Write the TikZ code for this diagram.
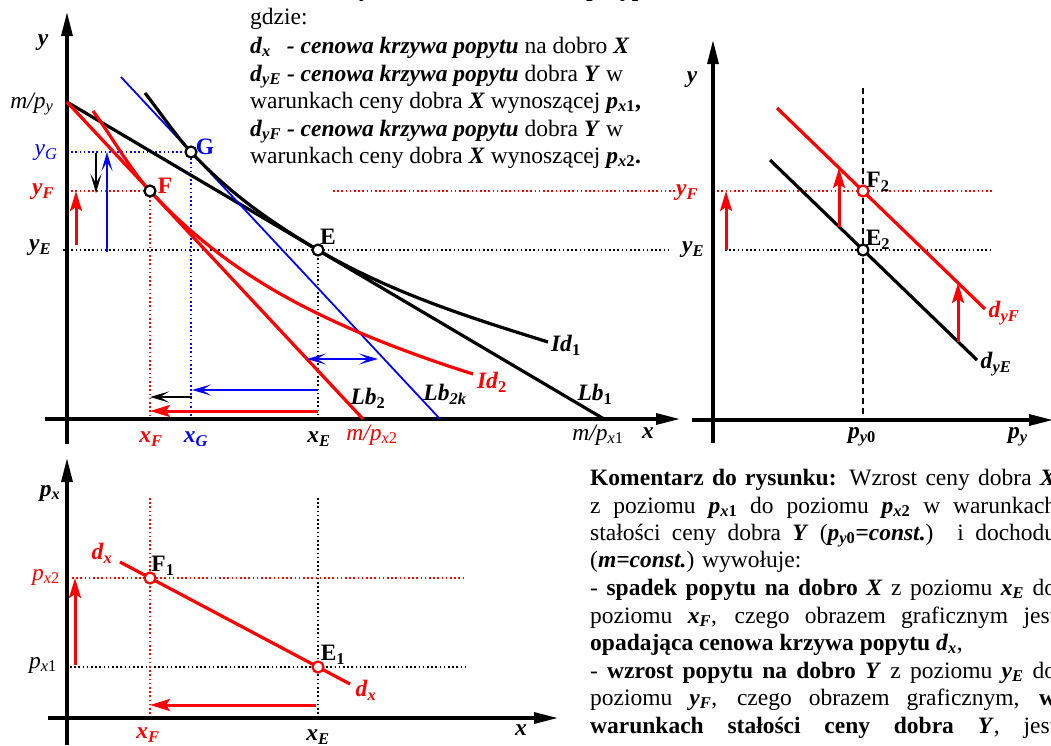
\documentclass[tikz,border=0pt]{standalone}
\usepackage{fontspec}
\setmainfont{Liberation Serif}
\usetikzlibrary{arrows.meta}

\newcommand{\bfit}[1]{\textbf{\textit{#1}}}

\tikzstyle{axis line}=[line width=3.2pt, -{Triangle[length=24pt,width=11pt]}]
\tikzstyle{thick line}=[line width=3.2pt]
\tikzstyle{thin line}=[line width=1.8pt]
\tikzstyle{guide}=[line width=1.5pt, dash pattern=on 1.5pt off 2.7pt]
\tikzstyle{price line}=[line width=1.4pt, dash pattern=on 6pt off 4pt]
\tikzstyle{move}=[line width=3pt, -{Stealth[length=20pt,width=12pt,inset=4pt]}]
\tikzstyle{small move}=[line width=2.8pt, -{Stealth[length=19pt,width=11pt,inset=9pt]}]
\tikzstyle{opt}=[circle, draw, fill=white, line width=2.2pt, minimum size=11pt, inner sep=0pt]
\tikzstyle{lbl}=[inner sep=0pt]
\tikzstyle{textline}=[anchor=base west, inner sep=0pt]

\begin{document}
\begin{tikzpicture}[x=1pt, y=-1pt, font=\fontsize{23.5}{27.5}\selectfont]
\clip (0,0) rectangle (1051,745);

% ---------- upper left: budget lines and indifference curves
\coordinate (my) at (67,102);
\coordinate (mx1) at (604,419);
\coordinate (mx2) at (363,419);
\coordinate (k1) at (121,77);
\coordinate (k2) at (440,419);
\coordinate (E) at (318,250);
\coordinate (F) at (150,191);
\coordinate (G) at (191,152);

\draw[guide, blue] (67,152) -- (G) -- (191,419);
\draw[guide, red] (67,191) -- (F) -- (150,419);
\draw[guide, red] (333,191) -- (675,191);
\draw[guide] (63,250) -- (668,250);
\draw[guide] (E) -- (318,419);

\draw[axis line] (67,444) -- (67,12);
\draw[axis line] (45,419) -- (680,419);

\draw[thick line] (my) -- (mx1);
\draw[thick line, red] (my) -- (mx2);
\draw[thin line, blue] (k1) -- (k2);

% Id1 and Id2
\draw[thick line] (145,93) .. controls (160,112) and (176,136) .. (G)
	.. controls (233,197) and (276,225) .. (E)
	.. controls (395,295) and (478,320) .. (548,342);
\draw[thick line, red] (93,111) .. controls (110,134) and (132,172) .. (F)
	.. controls (219,265) and (289,302) .. (358,332)
	.. controls (396,348) and (435,362) .. (473,374);

\draw[move, red] (76,245) -- (76,191);
\draw[small move, blue] (107,252) -- (107,152);
\draw[small move, line width=2.2pt] (96,153) -- (96,193);
\draw[small move, blue, {Stealth[length=19pt,width=11pt,inset=9pt]}-{Stealth[length=19pt,width=11pt,inset=9pt]}] (307,359) -- (378,359);
\draw[small move, blue] (318,390) -- (192,390);
\draw[small move] (192,397) -- (150,397);
\draw[move, red] (318,411) -- (150,411);

\node[opt] (Ept) at (E) {};
\node[opt] (Fpt) at (F) {};
\node[opt] (Gpt) at (G) {};

\node[lbl] (ylab) at (43,43) {\bfit{y}};
\node[lbl] (mpy) at (32,104) {\textit{m/p}\textsubscript{\textit{y}}};
\node[lbl, blue] (yG) at (46,153) {\textit{y}\textsubscript{\textit{G}}};
\node[lbl, red] (yF) at (43,192) {\bfit{y}\textsubscript{\bfit{F}}};
\node[lbl] (yE) at (40,248) {\bfit{y}\textsubscript{\bfit{E}}};
\node[lbl, blue] (Glab) at (205,147) {\textbf{G}};
\node[lbl, red] (Flab) at (165,186) {\textbf{F}};
\node[lbl] (Elab) at (328,237) {\textbf{E}};
\node[lbl] (Id1) at (566,345) {\bfit{Id}\textsubscript{\textbf{1}}};
\node[lbl, red] (Id2) at (492,382) {\bfit{Id}\textsubscript{\textbf{2}}};
\node[lbl] (Lb2) at (368,398) {\bfit{Lb}\textsubscript{\textbf{2}}};
\node[lbl] (Lb2k) at (445,394) {\bfit{Lb}\textsubscript{\bfit{2k}}};
\node[lbl] (Lb1) at (595,394) {\bfit{Lb}\textsubscript{\textbf{1}}};
\node[lbl, red] (xF) at (151,439) {\bfit{x}\textsubscript{\bfit{F}}};
\node[lbl, blue] (xG) at (196,439) {\bfit{x}\textsubscript{\bfit{G}}};
\node[lbl] (xE) at (319,439) {\bfit{x}\textsubscript{\bfit{E}}};
\node[lbl, red] (mpx2) at (372,435) {\textit{m/p}\textsubscript{\textit{x}2}};
\node[lbl] (mpx1) at (598,435) {\textit{m/p}\textsubscript{\textit{x}1}};
\node[lbl] (xlab) at (648,433) {\bfit{x}};

% ---------- upper right: demand for Y
\coordinate (E2) at (863,250);
\coordinate (F2) at (863,191);

\draw[guide, red] (713,191) -- (993,191);
\draw[guide] (725,250) -- (993,250);
\draw[price line] (863,88) -- (863,420);

\draw[axis line] (713,443) -- (713,40);
\draw[axis line] (692,420) -- (1053,420);

\draw[thick line] (770,160) -- (977,360);
\draw[thick line, red] (777,108) -- (985,309);

\draw[move, red] (726,250) -- (726,191);
\draw[move, red] (839,227) -- (839,168);
\draw[move, red] (958,342) -- (958,283);

\node[opt] (E2pt) at (E2) {};
\node[opt, draw=red] (F2pt) at (F2) {};

\node[lbl] (ylab2) at (692,80) {\bfit{y}};
\node[lbl, red] (yF2) at (687,193) {\bfit{y}\textsubscript{\bfit{F}}};
\node[lbl] (yE2) at (693,250) {\bfit{y}\textsubscript{\bfit{E}}};
\node[lbl] (F2lab) at (878,182) {\textbf{F}\textsubscript{\textbf{2}}};
\node[lbl] (E2lab) at (878,240) {\textbf{E}\textsubscript{\textbf{2}}};
\node[lbl, red] (dyF) at (1004,313) {\bfit{d}\textsubscript{\bfit{yF}}};
\node[lbl] (dyE) at (996,364) {\bfit{d}\textsubscript{\bfit{yE}}};
\node[lbl] (py0) at (862,437) {\bfit{p}\textsubscript{\bfit{y}\textbf{0}}};
\node[lbl] (py) at (1018,437) {\bfit{p}\textsubscript{\bfit{y}}};

% ---------- lower left: demand for X
\coordinate (F1) at (150,578);
\coordinate (E1) at (318,667);

\draw[guide, red] (72,578) -- (464,578);
\draw[guide] (70,667) -- (466,667);
\draw[guide, red] (150,498) -- (150,718);
\draw[guide] (318,498) -- (318,718);

\draw[axis line] (67,745) -- (67,458);
\draw[axis line] (48,718) -- (558,718);

\draw[thick line, red] (120,562) -- (350,684);

\draw[move, red] (75,665) -- (75,578);
\draw[move, red] (316,705) -- (150,705);

\node[opt, draw=red] (F1pt) at (F1) {};
\node[opt, draw=red] (E1pt) at (E1) {};

\node[lbl] (pxlab) at (50,493) {\bfit{p}\textsubscript{\bfit{x}}};
\node[lbl] (xlab3) at (521,730) {\bfit{x}};
\node[lbl, red] (px2) at (46,577) {\textit{p}\textsubscript{\textit{x}2}};
\node[lbl] (px1) at (43,665) {\textit{p}\textsubscript{\textit{x}1}};
\node[lbl, red] (dx1) at (102,553) {\bfit{d}\textsubscript{\bfit{x}}};
\node[lbl, red] (dx2) at (366,690) {\bfit{d}\textsubscript{\bfit{x}}};
\node[lbl] (F1lab) at (163,566) {\textbf{F}\textsubscript{\textbf{1}}};
\node[lbl] (E1lab) at (333,655) {\textbf{E}\textsubscript{\textbf{1}}};
\node[lbl, red] (xF3) at (148,735) {\bfit{x}\textsubscript{\bfit{F}}};
\node[lbl] (xE3) at (318,737) {\bfit{x}\textsubscript{\bfit{E}}};

% ---------- legend (top)
\begin{scope}
\clip (245,-10) rectangle (680,167);
\node[textline] (leg0) at (250,-3.5) {stałości ceny dobra \bfit{Y} i dochodu, \textbf{w przypadku popytu na dobro} \bfit{Y}};
\node[textline] (leg1) at (250,24) {gdzie:};
\node[textline] (leg2) at (250,53) {\bfit{d}\textsubscript{\bfit{x}}\hspace{16pt}\bfit{- cenowa krzywa popytu} na dobro \bfit{X}};
\node[textline] (leg3) at (250,81) {\bfit{d}\textsubscript{\bfit{yE}}\hspace{6pt}\bfit{- cenowa krzywa popytu} dobra \bfit{Y} w};
\node[textline] (leg4) at (250,108) {warunkach ceny dobra \bfit{X} wynoszącej \bfit{p}\textsubscript{\bfit{x}\textbf{1}}\textbf{,}};
\node[textline] (leg5) at (250,136) {\bfit{d}\textsubscript{\bfit{yF}}\hspace{6pt}\bfit{- cenowa krzywa popytu} dobra \bfit{Y} w};
\node[textline] (leg6) at (250,163) {warunkach ceny dobra \bfit{X} wynoszącej \bfit{p}\textsubscript{\bfit{x}\textbf{2}}\textbf{.}};
\end{scope}

% ---------- comment (bottom right)
\node[textline] (com1) at (590,485) {\makebox[466pt][s]{\textbf{Komentarz do rysunku:} Wzrost ceny dobra \bfit{X}}};
\node[textline] (com2) at (590,513) {\makebox[466pt][s]{z poziomu \bfit{p}\textsubscript{\bfit{x}\textbf{1}} do poziomu \bfit{p}\textsubscript{\bfit{x}\textbf{2}} w warunkach}};
\node[textline] (com3) at (590,540) {\makebox[466pt][s]{stałości ceny dobra \bfit{Y} (\bfit{p}\textsubscript{\bfit{y}\textbf{0}}\bfit{=const.}) i dochodu}};
\node[textline] (com4) at (590,567) {(\bfit{m=const.}) wywołuje:};
\node[textline] (com5) at (590,595) {\makebox[466pt][s]{- \textbf{spadek popytu na dobro \textit{X}} z poziomu \bfit{x}\textsubscript{\bfit{E}} do}};
\node[textline] (com6) at (590,623) {\makebox[466pt][s]{poziomu \bfit{x}\textsubscript{\bfit{F}}, czego obrazem graficznym jest}};
\node[textline] (com7) at (590,650) {\textbf{opadająca cenowa krzywa popytu \textit{d}\textsubscript{\textit{x}}},};
\node[textline] (com8) at (590,678) {\makebox[466pt][s]{- \textbf{wzrost popytu na dobro \textit{Y}} z poziomu \bfit{y}\textsubscript{\bfit{E}} do}};
\node[textline] (com9) at (590,705) {\makebox[466pt][s]{poziomu \bfit{y}\textsubscript{\bfit{F}}, czego obrazem graficznym, \textbf{w}}};
\node[textline] (com10) at (590,733) {\makebox[466pt][s]{\textbf{warunkach stałości ceny dobra \textit{Y}}, jest}};
\end{tikzpicture}
\end{document}
